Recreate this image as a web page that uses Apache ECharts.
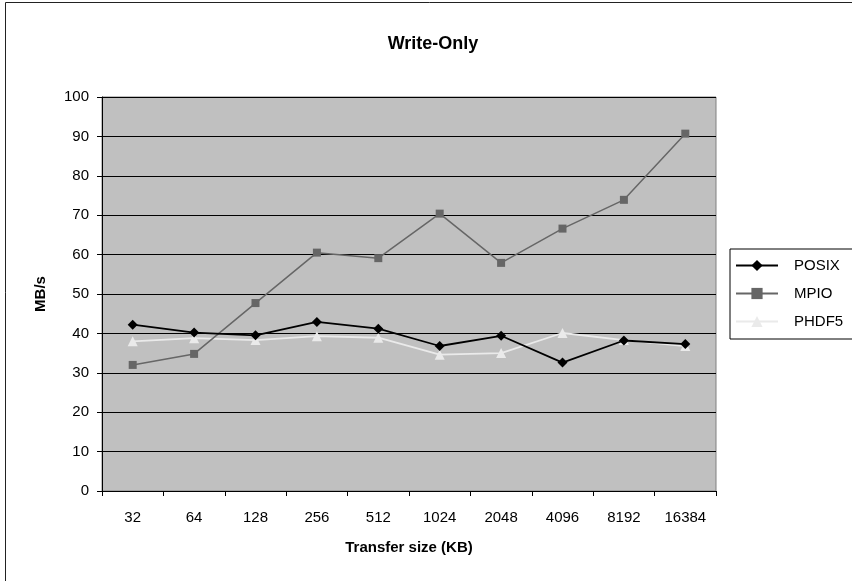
<!DOCTYPE html>
<html>
<head>
<meta charset="utf-8">
<script src="https://cdn.jsdelivr.net/npm/echarts@6/dist/echarts.min.js"></script>
<style>html,body{margin:0;padding:0;background:#fff}#c{width:852px;height:581px}</style>
</head>
<body>
<div id="c"></div>
<script>
const categories = ['32','64','128','256','512','1024','2048','4096','8192','16384'];
const posix = [42.2, 40.2, 39.5, 42.9, 41.2, 36.8, 39.4, 32.6, 38.2, 37.3];
const mpio  = [32.0, 34.8, 47.7, 60.5, 59.1, 70.4, 57.9, 66.6, 73.9, 90.7];
const phdf5 = [38.0, 38.8, 38.3, 39.3, 38.9, 34.6, 35.0, 40.1, 38.3, 36.8];
const yTicks = [0,10,20,30,40,50,60,70,80,90,100];

const FONT = '"Liberation Sans", Arial, sans-serif';
const chart = echarts.init(document.getElementById('c'), null, {renderer:'canvas'});
chart.setOption({
  animation: false,
  backgroundColor: '#ffffff',
  textStyle: {fontFamily: FONT},
  graphic: [{
    type: 'rect', z: -10, silent: true,
    shape: {x: 5.5, y: 2.5, width: 900, height: 700},
    style: {fill: '#ffffff', stroke: '#222', lineWidth: 1}
  }],
  title: {
    text: 'Write-Only', left: 428, top: 30, textAlign: 'center',
    textStyle: {fontFamily: FONT, fontSize: 18, fontWeight: 'bold', color: '#000'}
  },
  legend: {
    orient: 'vertical', left: 730, top: 249,
    padding: [9, 40, 10, 5], itemGap: 13, itemWidth: 42, itemHeight: 14,
    borderColor: '#000', borderWidth: 1, backgroundColor: '#fff',
    textStyle: {fontFamily: FONT, fontSize: 15, color: '#000', padding: [0,0,0,11]},
    data: ['POSIX','MPIO','PHDF5']
  },
  grid: {left: 102, top: 97, width: 614, height: 394, show: true,
    backgroundColor: '#C0C0C0', borderColor: '#808080', borderWidth: 1},
  xAxis: {
    type: 'category', data: categories, boundaryGap: true,
    name: 'Transfer size (KB)', nameLocation: 'middle', nameGap: 49,
    nameTextStyle: {fontFamily: FONT, fontSize: 15, fontWeight: 'bold', color: '#000'},
    axisLine: {lineStyle: {color: '#000', width: 1}},
    axisTick: {show: true, length: 5, inside: false, lineStyle: {color: '#000'}},
    axisLabel: {fontFamily: FONT, fontSize: 15, color: '#000', margin: 19},
    splitLine: {show: false}
  },
  yAxis: {
    type: 'value', min: 0, max: 100, interval: 10,
    name: 'MB/s', nameLocation: 'middle', nameGap: 54, nameRotate: 90,
    nameTextStyle: {fontFamily: FONT, fontSize: 15, fontWeight: 'bold', color: '#000'},
    axisLine: {show: true, lineStyle: {color: '#000', width: 1}},
    axisTick: {show: true, length: 5, lineStyle: {color: '#000'}},
    axisLabel: {fontFamily: FONT, fontSize: 15, color: '#000', margin: 13,
      formatter: v => yTicks.includes(v) ? String(v) : ''},
    splitLine: {show: true, lineStyle: {color: '#000', width: 1}}
  },
  series: [
    {name: 'POSIX', type: 'line', data: posix, symbol: 'diamond', symbolSize: 10,
     lineStyle: {color: '#000', width: 1.8}, itemStyle: {color: '#000'}, z: 4},
    {name: 'MPIO', type: 'line', data: mpio, symbol: 'rect', symbolSize: 8,
     lineStyle: {color: '#666', width: 1.5}, itemStyle: {color: '#666'}, z: 3},
    {name: 'PHDF5', type: 'line', data: phdf5, symbol: 'triangle', symbolSize: 10,
     lineStyle: {color: '#EAEAEA', width: 1.8}, itemStyle: {color: '#EAEAEA'}, z: 2}
  ]
});
</script>
</body>
</html>
